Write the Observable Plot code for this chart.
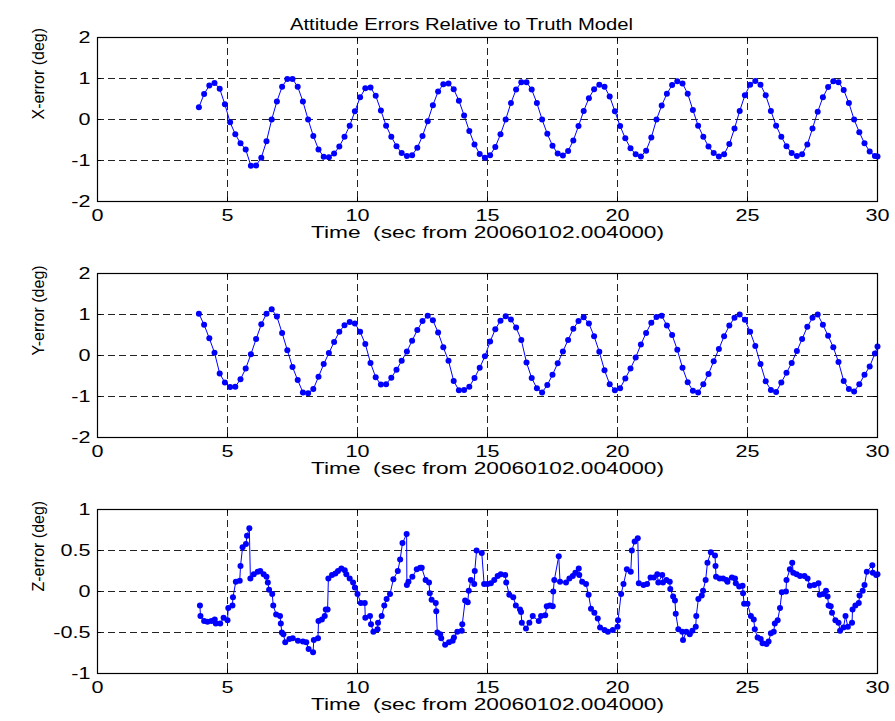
<!DOCTYPE html>
<html>
<head>
<meta charset="utf-8">
<script src="https://cdn.jsdelivr.net/npm/d3@7"></script>
<script src="https://cdn.jsdelivr.net/npm/@observablehq/plot@0.6"></script>
<style>
  body { margin: 0; background: #fff; }
  #chart { width: 895px; }
  #chart svg { display: block; }
  #chart text { white-space: pre; }
</style>
</head>
<body>
<div id="chart"></div>
<script>
const titleText = "Attitude Errors Relative to Truth Model";
const xLabel = "Time  (sec from 20060102.004000)";
const yLabels = ["X-error (deg)", "Y-error (deg)", "Z-error (deg)"];
const xTicks = [0, 5, 10, 15, 20, 25, 30];
const xyTicks = [-2, -1, 0, 1, 2];
const zTicks = [-1, -0.5, 0, 0.5, 1];

// sample times for the X and Y error series (sec)
const xyTime = [
  3.9,4.1,4.3,4.5,4.7,4.9,5.1,5.3,5.5,5.7,
  5.9,6.1,6.3,6.5,6.7,6.9,7.1,7.3,7.5,7.7,
  7.9,8.1,8.3,8.5,8.7,8.9,9.1,9.3,9.5,9.7,
  9.9,10.1,10.3,10.5,10.7,10.9,11.1,11.3,11.5,11.7,
  11.9,12.1,12.3,12.5,12.7,12.9,13.1,13.3,13.5,13.7,
  13.9,14.1,14.3,14.5,14.7,14.9,15.1,15.3,15.5,15.7,
  15.9,16.1,16.3,16.5,16.7,16.9,17.1,17.3,17.5,17.7,
  17.9,18.1,18.3,18.5,18.7,18.9,19.1,19.3,19.5,19.7,
  19.9,20.1,20.3,20.5,20.7,20.9,21.1,21.3,21.5,21.7,
  21.9,22.1,22.3,22.5,22.7,22.9,23.1,23.3,23.5,23.7,
  23.9,24.1,24.3,24.5,24.7,24.9,25.1,25.3,25.5,25.7,
  25.9,26.1,26.3,26.5,26.7,26.9,27.1,27.3,27.5,27.7,
  27.9,28.1,28.3,28.5,28.7,28.9,29.1,29.3,29.5,29.7,
  29.9,30.0
];

const xError = [
  0.30,0.62,0.83,0.89,0.75,0.37,-0.07,-0.36,-0.58,-0.73,
  -1.13,-1.12,-0.93,-0.53,0.00,0.44,0.80,0.99,0.99,0.80,
  0.44,0.00,-0.40,-0.73,-0.91,-0.92,-0.83,-0.66,-0.42,-0.15,
  0.20,0.54,0.76,0.78,0.58,0.22,-0.15,-0.42,-0.65,-0.82,
  -0.89,-0.87,-0.69,-0.40,-0.04,0.35,0.68,0.86,0.88,0.74,
  0.46,0.10,-0.28,-0.61,-0.84,-0.93,-0.87,-0.67,-0.36,0.00,
  0.40,0.73,0.91,0.91,0.73,0.40,0.00,-0.35,-0.64,-0.83,
  -0.88,-0.77,-0.51,-0.16,0.21,0.52,0.74,0.85,0.80,0.56,
  0.20,-0.16,-0.46,-0.70,-0.85,-0.90,-0.76,-0.44,0.00,0.34,
  0.63,0.84,0.93,0.88,0.63,0.23,-0.15,-0.42,-0.66,-0.82,
  -0.90,-0.85,-0.60,-0.22,0.21,0.59,0.85,0.94,0.85,0.59,
  0.21,-0.15,-0.42,-0.65,-0.82,-0.89,-0.85,-0.61,-0.22,0.19,
  0.54,0.79,0.93,0.91,0.72,0.40,0.00,-0.31,-0.58,-0.78,
  -0.89,-0.90
];

const yError = [
  1.02,0.75,0.42,0.07,-0.44,-0.66,-0.77,-0.76,-0.58,-0.32,
  0.03,0.40,0.76,1.02,1.13,0.95,0.55,0.13,-0.28,-0.60,
  -0.90,-0.92,-0.82,-0.52,-0.21,0.06,0.33,0.58,0.74,0.82,
  0.78,0.58,0.28,-0.18,-0.53,-0.71,-0.70,-0.54,-0.35,-0.13,
  0.10,0.36,0.62,0.84,0.97,0.86,0.56,0.20,-0.13,-0.62,
  -0.85,-0.84,-0.76,-0.55,-0.30,-0.02,0.34,0.64,0.85,0.96,
  0.88,0.68,0.38,-0.17,-0.55,-0.80,-0.90,-0.72,-0.47,-0.19,
  0.10,0.38,0.65,0.84,0.93,0.78,0.47,0.09,-0.36,-0.70,
  -0.85,-0.80,-0.56,-0.32,-0.05,0.27,0.55,0.80,0.94,0.97,
  0.73,0.50,0.14,-0.30,-0.65,-0.86,-0.90,-0.70,-0.45,-0.14,
  0.16,0.47,0.73,0.92,1.00,0.87,0.58,0.23,-0.21,-0.63,
  -0.84,-0.89,-0.66,-0.42,-0.18,0.11,0.40,0.70,0.92,1.00,
  0.75,0.48,0.20,-0.16,-0.62,-0.82,-0.88,-0.70,-0.47,-0.27,
  0.05,0.22
];

// Z error samples: [time (sec), error (deg)]
const zSamples = [
  [3.94,-0.17],[3.96,-0.30],[4.10,-0.36],[4.23,-0.37],[4.38,-0.36],[4.51,-0.34],[4.55,-0.39],[4.72,-0.39],
  [4.85,-0.32],[5.00,-0.35],[5.03,-0.20],[5.19,-0.17],[5.21,-0.07],[5.32,0.12],[5.47,0.13],[5.50,0.31],
  [5.58,0.54],[5.71,0.58],[5.75,0.68],[5.84,0.77],[5.88,0.16],[6.01,0.21],[6.16,0.24],[6.26,0.25],
  [6.39,0.21],[6.50,0.18],[6.55,0.11],[6.60,0.02],[6.72,-0.03],[6.76,-0.17],[6.87,-0.28],[7.02,-0.30],
  [7.05,-0.39],[7.09,-0.50],[7.15,-0.52],[7.22,-0.62],[7.38,-0.58],[7.51,-0.57],[7.71,-0.60],[7.90,-0.61],
  [8.03,-0.62],[8.12,-0.70],[8.29,-0.74],[8.32,-0.59],[8.48,-0.57],[8.50,-0.36],[8.63,-0.34],[8.74,-0.30],
  [8.78,-0.22],[8.85,-0.22],[8.88,0.16],[9.02,0.20],[9.15,0.22],[9.25,0.25],[9.38,0.28],[9.51,0.26],
  [9.57,0.21],[9.70,0.16],[9.83,0.11],[9.90,0.05],[10.00,-0.03],[10.13,-0.14],[10.28,-0.14],[10.30,-0.32],
  [10.48,-0.30],[10.52,-0.40],[10.61,-0.49],[10.77,-0.46],[10.79,-0.38],[10.93,-0.30],[11.03,-0.17],[11.12,-0.09],
  [11.25,-0.03],[11.38,0.15],[11.55,0.25],[11.64,0.39],[11.73,0.59],[11.89,0.70],[11.90,0.08],[11.96,0.12],
  [12.11,0.18],[12.28,0.27],[12.41,0.29],[12.47,0.29],[12.62,0.14],[12.75,0.11],[12.78,-0.02],[12.85,-0.10],
  [13.01,-0.14],[13.03,-0.24],[13.07,-0.50],[13.18,-0.52],[13.22,-0.57],[13.37,-0.65],[13.52,-0.62],[13.66,-0.60],
  [13.71,-0.56],[13.84,-0.49],[14.01,-0.48],[14.03,-0.40],[14.14,-0.11],[14.24,-0.13],[14.28,0.01],[14.36,0.14],
  [14.49,0.09],[14.51,0.25],[14.58,0.50],[14.78,0.47],[14.87,0.09],[15.00,0.09],[15.13,0.10],[15.26,0.14],
  [15.39,0.19],[15.51,0.21],[15.68,0.20],[15.72,0.11],[15.84,-0.04],[15.99,-0.07],[16.09,-0.17],[16.25,-0.22],
  [16.29,-0.25],[16.32,-0.38],[16.48,-0.45],[16.61,-0.38],[16.74,-0.30],[16.97,-0.36],[17.06,-0.30],[17.22,-0.29],
  [17.28,-0.18],[17.40,-0.17],[17.51,-0.18],[17.53,0.00],[17.57,0.14],[17.74,0.43],[17.79,0.12],[18.02,0.11],
  [18.15,0.16],[18.28,0.19],[18.38,0.23],[18.51,0.28],[18.53,0.20],[18.64,0.12],[18.79,0.09],[18.89,-0.04],
  [18.98,-0.21],[19.11,-0.26],[19.24,-0.33],[19.33,-0.44],[19.50,-0.47],[19.63,-0.49],[19.82,-0.47],[20.00,-0.43],
  [20.02,-0.35],[20.14,-0.03],[20.23,0.09],[20.36,0.27],[20.51,0.24],[20.55,0.50],[20.66,0.61],[20.78,0.65],
  [20.82,0.10],[21.00,0.08],[21.14,0.09],[21.27,0.17],[21.40,0.17],[21.53,0.21],[21.57,0.11],[21.72,0.20],
  [21.75,0.11],[21.88,0.14],[22.01,0.12],[22.03,0.03],[22.14,-0.06],[22.21,-0.11],[22.24,-0.27],[22.34,-0.46],
  [22.49,-0.49],[22.52,-0.59],[22.65,-0.49],[22.78,-0.52],[22.88,-0.48],[23.01,-0.43],[23.03,-0.30],[23.11,-0.09],
  [23.24,-0.05],[23.29,0.01],[23.39,0.14],[23.46,0.35],[23.59,0.48],[23.75,0.44],[23.77,0.31],[23.79,0.18],
  [23.93,0.16],[24.06,0.16],[24.19,0.14],[24.23,0.12],[24.40,0.17],[24.52,0.16],[24.55,0.10],[24.68,0.06],
  [24.81,0.07],[24.83,-0.02],[24.87,-0.15],[25.00,-0.15],[25.13,-0.30],[25.24,-0.34],[25.28,-0.46],[25.39,-0.56],
  [25.51,-0.58],[25.58,-0.63],[25.73,-0.64],[25.81,-0.61],[25.90,-0.51],[26.01,-0.49],[26.05,-0.39],[26.16,-0.35],
  [26.25,-0.20],[26.32,-0.01],[26.48,0.00],[26.50,0.14],[26.63,0.27],[26.72,0.35],[26.76,0.23],[26.89,0.21],
  [27.02,0.19],[27.19,0.19],[27.31,0.16],[27.40,0.07],[27.57,0.08],[27.73,0.10],[27.78,-0.04],[27.91,-0.03],
  [28.02,0.01],[28.08,-0.06],[28.12,-0.17],[28.20,-0.18],[28.25,-0.26],[28.38,-0.35],[28.50,-0.38],[28.56,-0.48],
  [28.69,-0.44],[28.77,-0.30],[28.86,-0.43],[29.02,-0.38],[29.04,-0.22],[29.15,-0.17],[29.28,-0.14],[29.31,-0.05],
  [29.43,0.01],[29.50,0.08],[29.59,0.24],[29.80,0.32],[29.82,0.23],[29.95,0.20],[30.00,0.21]
];

const FONT = "'Liberation Sans', Arial, Helvetica, sans-serif";
const W = 895, ML = 97, MR = 18, MT = 37, INNER_H = 164;

function zipSeries(times, values) {
  const n = Math.min(times.length, values.length);
  const out = [];
  for (let i = 0; i < n; i++) out.push({t: times[i], v: values[i]});
  return out;
}

const xData = zipSeries(xyTime, xError);
const yData = zipSeries(xyTime, yError);
const zData = zSamples.map(([t, v]) => ({t, v}));

function panel({data, yDomain, yTicks, yLabel, height, title}) {
  const xDomain = [xTicks[0], xTicks[xTicks.length - 1]];
  const marginBottom = height - MT - INNER_H;
  const tx = 4 * (xDomain[1] - xDomain[0]) / (W - ML - MR);
  const ty = 4 * (yDomain[1] - yDomain[0]) / INNER_H;
  const gridX = xTicks.slice(1, -1);
  const gridY = yTicks.slice(1, -1);
  const marks = [
    Plot.ruleX(gridX, {stroke: "#222", strokeWidth: 1, strokeDasharray: "7,4"}),
    Plot.ruleY(gridY, {stroke: "#222", strokeWidth: 1, strokeDasharray: "7,4"}),
    Plot.ruleX(xTicks, {y1: yDomain[0], y2: yDomain[0] + ty, stroke: "#000"}),
    Plot.ruleX(xTicks, {y1: yDomain[1] - ty, y2: yDomain[1], stroke: "#000"}),
    Plot.ruleY(yTicks, {x1: xDomain[0], x2: xDomain[0] + tx, stroke: "#000"}),
    Plot.ruleY(yTicks, {x1: xDomain[1] - tx, x2: xDomain[1], stroke: "#000"}),
    Plot.line(data, {x: "t", y: "v", stroke: "#0000ff", strokeWidth: 1}),
    Plot.dot(data, {x: "t", y: "v", r: 3, fill: "#0000ff", stroke: "none"}),
    Plot.frame({stroke: "#000", strokeWidth: 1.2}),
    Plot.axisX(xTicks, {anchor: "bottom", tickSize: 0, tickPadding: 8, fontSize: 16, label: null, tickFormat: d => String(d)}),
    Plot.axisY(yTicks, {anchor: "left", tickSize: 0, tickPadding: 7, fontSize: 16, label: null, tickFormat: d => String(d)}),
    Plot.text([xLabel], {text: d => d, frameAnchor: "bottom", dy: 36, fontSize: 16, fill: "#000"}),
    Plot.text([yLabel], {text: d => d, frameAnchor: "left", dx: -59, rotate: -90, fontSize: 16, fill: "#000"})
  ];
  if (title) {
    marks.push(Plot.text([title], {text: d => d, frameAnchor: "top", dy: -19, dx: -26, fontSize: 16, fill: "#000"}));
  }
  return Plot.plot({
    width: W,
    height,
    marginLeft: ML,
    marginRight: MR,
    marginTop: MT,
    marginBottom,
    x: {domain: xDomain, label: null},
    y: {domain: yDomain, label: null},
    style: {fontFamily: FONT, fontSize: "16px", background: "#fff", color: "#000", overflow: "visible"},
    marks
  });
}

const chart = document.getElementById("chart");
const panels = [
  panel({data: xData, yDomain: [-2, 2], yTicks: xyTicks, yLabel: yLabels[0], height: 236, title: titleText}),
  panel({data: yData, yDomain: [-2, 2], yTicks: xyTicks, yLabel: yLabels[1], height: 236}),
  panel({data: zData, yDomain: [-1, 1], yTicks: zTicks, yLabel: yLabels[2], height: 249})
];
panels.forEach(p => chart.appendChild(p));

// widen horizontal text to match the reference's wide lettering
panels.forEach(svg => {
  svg.querySelectorAll("text").forEach(t => {
    const s = t.textContent;
    if (yLabels.includes(s)) return;
    const len = t.getComputedTextLength();
    if (!len) return;
    let target;
    if (s === titleText) target = 343;
    else if (s === xLabel) target = 353;
    else target = len * 1.35;
    t.setAttribute("textLength", target.toFixed(1));
    t.setAttribute("lengthAdjust", "spacingAndGlyphs");
  });
});
</script>
</body>
</html>
